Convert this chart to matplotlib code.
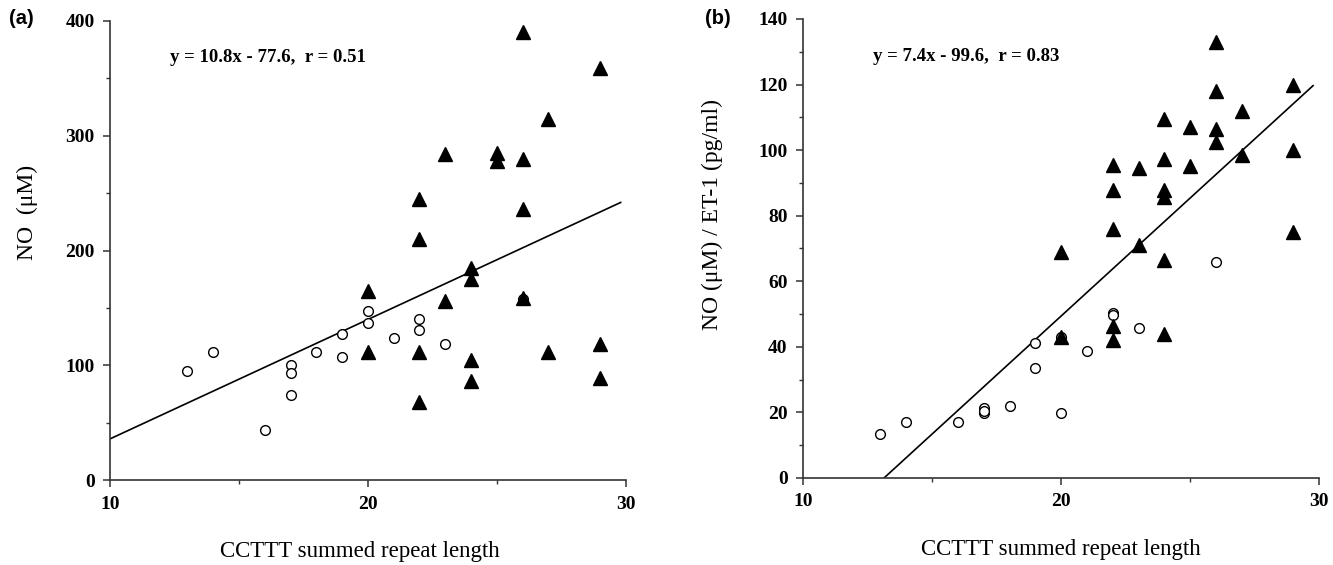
import matplotlib
matplotlib.use("Agg")
import matplotlib.pyplot as plt
from matplotlib.ticker import MultipleLocator

plt.rcParams['font.family'] = ['Liberation Serif', 'DejaVu Serif']

# panel (a): NO (uM)
a_open_x = [13, 14, 16, 17, 17, 17, 18, 19, 19, 20, 20, 21, 22, 22, 23, 26]
a_open_y = [95, 112, 44, 100, 93, 74, 112, 127, 107, 147, 137, 124, 140, 131, 119, 158]
a_tri_x = [26, 29, 27, 23, 25, 25, 26, 22, 26, 22, 24, 24, 20, 23, 26,
           20, 22, 24, 24, 22, 27, 29, 29]
a_tri_y = [390, 359, 315, 284, 285, 278, 280, 245, 236, 210, 185, 175, 165, 156, 159,
           112, 112, 105, 86, 68, 112, 119, 89]
a_fit = (10.4, -68.0)          # line as drawn
a_fit_x = [10, 29.8]
a_text = "y = 10.8x - 77.6,  r = 0.51"

# panel (b): NO / ET-1
b_open_x = [13, 14, 16, 17, 17, 17, 18, 19, 19, 20, 20, 21, 22, 22, 23, 26]
b_open_y = [13.4, 17.2, 17.2, 21.4, 19.7, 20.5, 22, 41.3, 33.7, 19.7, 43, 38.8, 50.2, 49.7, 45.8, 65.9]
b_tri_x = [26, 29, 26, 27, 24, 25, 26, 26, 29, 27, 22, 23, 24, 25, 22, 24, 24,
           22, 23, 29, 20, 24, 22, 22, 20, 24]
b_tri_y = [133, 120, 118, 112, 109.5, 107, 106.5, 102.5, 100, 98.5, 95.5, 94.7, 97.4, 95.2,
           87.7, 87.7, 85.8, 75.8, 71, 75, 69, 66.5, 46.3, 42, 43, 43.8]
b_fit = (7.2, -94.6)
b_fit_x = [13.14, 29.76]
b_text = "y = 7.4x - 99.6,  r = 0.83"

fig = plt.figure(figsize=(13.33, 5.65), dpi=100)
ax1 = fig.add_axes([0.0825, 0.150, 0.387, 0.813])
ax2 = fig.add_axes([0.6024, 0.154, 0.3873, 0.8124])


def style_axis(ax, ymax, ymajor, yminor):
    for s in ['top', 'right']:
        ax.spines[s].set_visible(False)
    for s in ['left', 'bottom']:
        ax.spines[s].set_linewidth(1.2)
        ax.spines[s].set_color('#333333')
    ax.set_xlim(10, 30)
    ax.set_ylim(0, ymax)
    ax.xaxis.set_major_locator(MultipleLocator(10))
    ax.xaxis.set_minor_locator(MultipleLocator(5))
    ax.yaxis.set_major_locator(MultipleLocator(ymajor))
    ax.yaxis.set_minor_locator(MultipleLocator(yminor))
    ax.tick_params(which='major', direction='out', length=5, width=1.1, color='#333333',
                   labelsize=14, pad=6)
    ax.tick_params(which='minor', direction='out', length=3, width=1.0, color='#333333')
    for lab in ax.get_xticklabels() + ax.get_yticklabels():
        lab.set_fontweight('bold')
    ax.set_xlabel('CCTTT summed repeat length', fontsize=16.5)


def draw_panel(ax, ox, oy, tx, ty, fit, fit_x):
    ax.plot(ox, oy, linestyle='none', marker='o', ms=7, mfc='white', mec='black',
            mew=1.0, zorder=3)
    ax.plot(tx, ty, linestyle='none', marker='^', ms=10, color='black', zorder=4)
    ax.plot(fit_x, [fit[0] * v + fit[1] for v in fit_x], color='black', lw=1.2, zorder=2)


draw_panel(ax1, a_open_x, a_open_y, a_tri_x, a_tri_y, a_fit, a_fit_x)
style_axis(ax1, 400, 100, 50)
ax1.set_ylabel('NO  (\u03bcM)', fontsize=17)
ax1.yaxis.set_label_coords(-0.14, 0.584)
ax1.xaxis.set_label_coords(0.485, -0.133)
ax1.text(0.116, 0.92, a_text, transform=ax1.transAxes, fontsize=13.5,
         fontweight='bold', va='center', ha='left')

draw_panel(ax2, b_open_x, b_open_y, b_tri_x, b_tri_y, b_fit, b_fit_x)
style_axis(ax2, 140, 20, 10)
ax2.set_ylabel('NO (\u03bcM) / ET-1 (pg/ml)', fontsize=17)
ax2.yaxis.set_label_coords(-0.155, 0.575)
ax2.xaxis.set_label_coords(0.5, -0.133)
ax2.text(0.135, 0.919, b_text, transform=ax2.transAxes, fontsize=13.5,
         fontweight='bold', va='center', ha='left')

fig.text(21 / 1333, 1 - 19 / 565, '(a)', fontsize=14.5, fontweight='bold',
         family='Liberation Sans', ha='center', va='center')
fig.text(718 / 1333, 1 - 19 / 565, '(b)', fontsize=14.5, fontweight='bold',
         family='Liberation Sans', ha='center', va='center')

fig.savefig('out.png', dpi=100)
